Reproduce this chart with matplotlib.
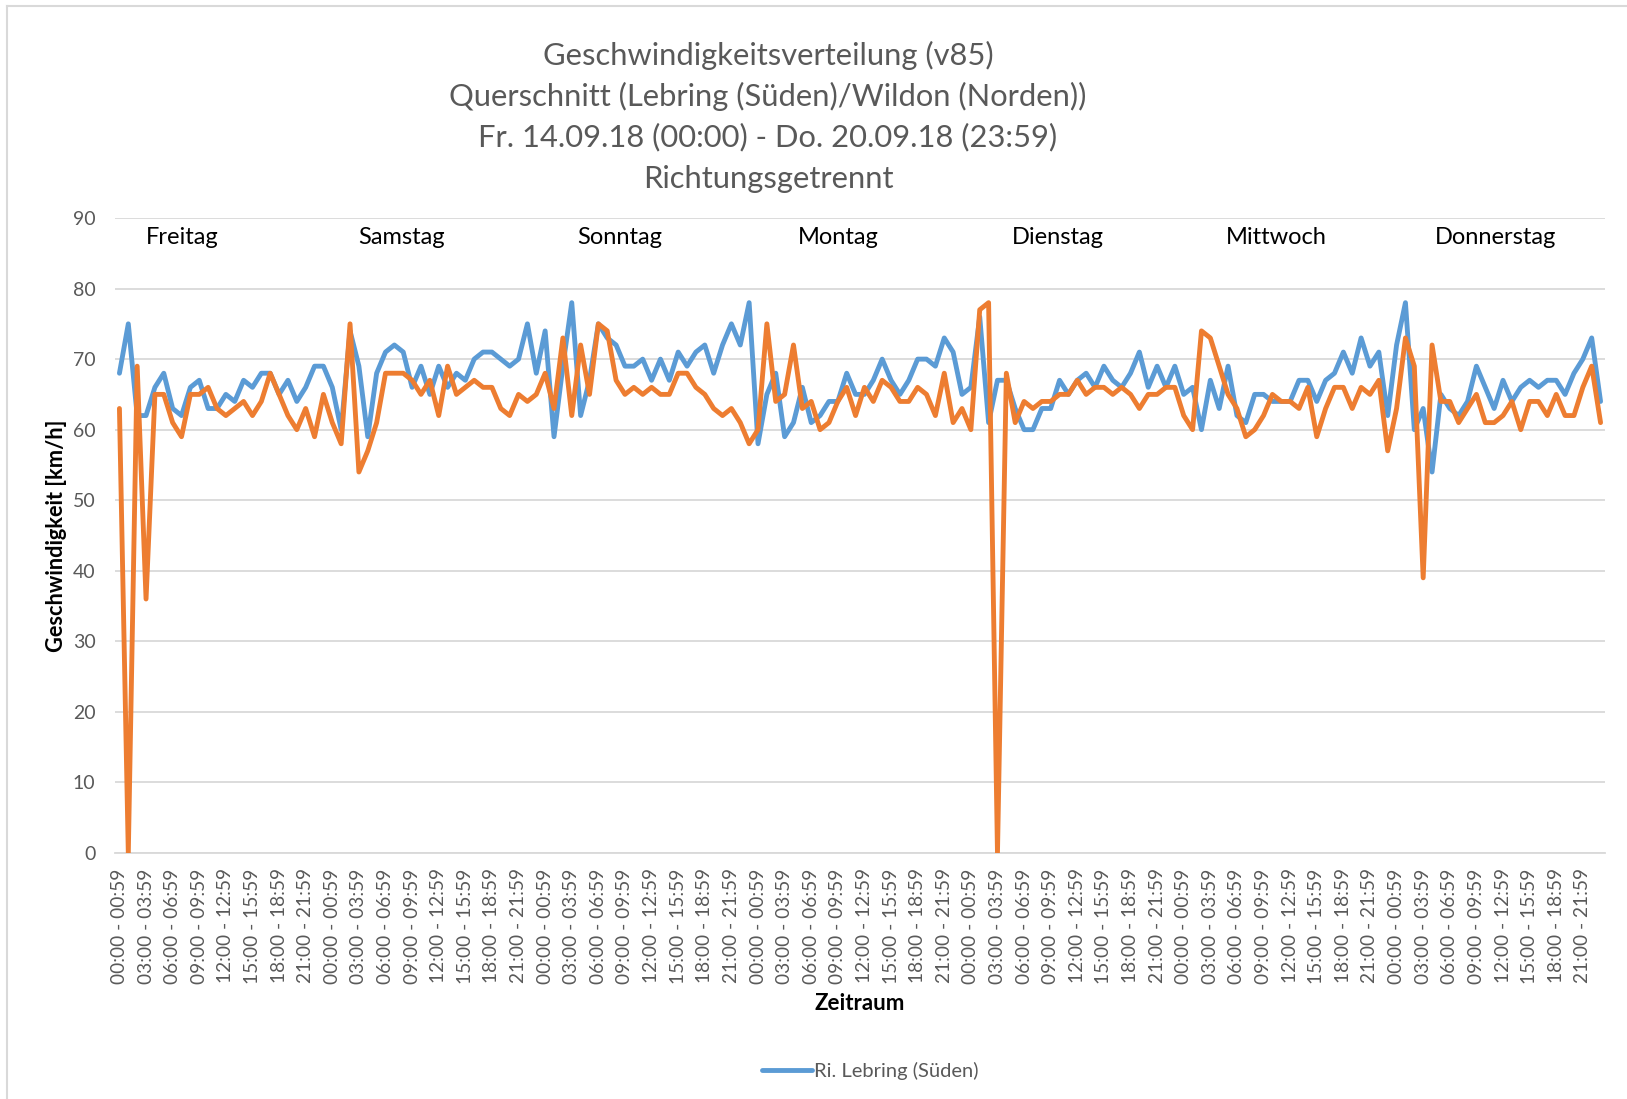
import matplotlib
matplotlib.use("Agg")
import matplotlib.pyplot as plt
from matplotlib.lines import Line2D

plt.rcParams['font.family'] = ['Lato', 'DejaVu Sans']

# ---- data ----
days = ["Freitag", "Samstag", "Sonntag", "Montag", "Dienstag", "Mittwoch", "Donnerstag"]
hour_labels = [f"{h:02d}:00 - {h:02d}:59" for h in range(24)]
categories = hour_labels * 7

lebring = [
    68, 75, 62, 62, 66, 68, 63, 62, 66, 67, 63, 63, 65, 64, 67, 66, 68, 68, 65, 67, 64, 66, 69, 69,
    66, 60, 74, 69, 59, 68, 71, 72, 71, 66, 69, 65, 69, 66, 68, 67, 70, 71, 71, 70, 69, 70, 75, 68,
    74, 59, 69, 78, 62, 67, 75, 73, 72, 69, 69, 70, 67, 70, 67, 71, 69, 71, 72, 68, 72, 75, 72, 78,
    58, 65, 68, 59, 61, 66, 61, 62, 64, 64, 68, 65, 65, 67, 70, 67, 65, 67, 70, 70, 69, 73, 71, 65,
    66, 76, 61, 67, 67, 63, 60, 60, 63, 63, 67, 65, 67, 68, 66, 69, 67, 66, 68, 71, 66, 69, 66, 69,
    65, 66, 60, 67, 63, 69, 62, 61, 65, 65, 64, 64, 64, 67, 67, 64, 67, 68, 71, 68, 73, 69, 71, 62,
    72, 78, 60, 63, 54, 65, 63, 62, 64, 69, 66, 63, 67, 64, 66, 67, 66, 67, 67, 65, 68, 70, 73, 64,
]
wildon = [
    63, 0, 69, 36, 65, 65, 61, 59, 65, 65, 66, 63, 62, 63, 64, 62, 64, 68, 65, 62, 60, 63, 59, 65,
    61, 58, 75, 54, 57, 61, 68, 68, 68, 67, 65, 67, 62, 69, 65, 66, 67, 66, 66, 63, 62, 65, 64, 65,
    68, 63, 73, 62, 72, 65, 75, 74, 67, 65, 66, 65, 66, 65, 65, 68, 68, 66, 65, 63, 62, 63, 61, 58,
    60, 75, 64, 65, 72, 63, 64, 60, 61, 64, 66, 62, 66, 64, 67, 66, 64, 64, 66, 65, 62, 68, 61, 63,
    60, 77, 78, 0, 68, 61, 64, 63, 64, 64, 65, 65, 67, 65, 66, 66, 65, 66, 65, 63, 65, 65, 66, 66,
    62, 60, 74, 73, 69, 65, 63, 59, 60, 62, 65, 64, 64, 63, 66, 59, 63, 66, 66, 63, 66, 65, 67, 57,
    63, 73, 69, 39, 72, 64, 64, 61, 63, 65, 61, 61, 62, 64, 60, 64, 64, 62, 65, 62, 62, 66, 69, 61,
]
yticks = list(range(0, 91, 10))

title_lines = [
    "Geschwindigkeitsverteilung (v85)",
    "Querschnitt (Lebring (Süden)/Wildon (Norden))",
    "Fr. 14.09.18 (00:00) - Do. 20.09.18 (23:59)",
    "Richtungsgetrennt",
]

# ---- figure ----
W, H = 1627, 1099
fig = plt.figure(figsize=(W / 100, H / 100), dpi=100)
ax = fig.add_axes([115 / W, 1 - 853 / H, (1605 - 115) / W, (853 - 218) / H])

x = list(range(len(categories)))
grey = "#595959"
ax.plot(x, lebring, color="#5B9BD5", lw=3.5, solid_joinstyle="round",
        solid_capstyle="round", label="Ri. Lebring (Süden)", zorder=3)
ax.plot(x, wildon, color="#ED7D31", lw=3.5, solid_joinstyle="round",
        solid_capstyle="round", label="Ri. Wildon (Norden)", zorder=4)

ax.set_xlim(-0.5, len(categories) - 0.5)
ax.set_ylim(0, 90)
ax.set_yticks(yticks)
ax.set_yticklabels([str(v) for v in yticks], color=grey, fontsize=14)
ax.set_xticks(x[::3])
ax.set_xticklabels(categories[::3], rotation=90, color=grey, fontsize=13.8)
ax.tick_params(axis="x", length=0, pad=11)
ax.tick_params(axis="y", length=0, pad=14)
ax.grid(axis="y", color="#d9d9d9", lw=1.3, zorder=0)
for s in ["top", "right", "left"]:
    ax.spines[s].set_visible(False)
ax.spines["bottom"].set_color("#d9d9d9")
ax.spines["bottom"].set_linewidth(1.3)

ax.set_ylabel("Geschwindigkeit [km/h]", fontsize=15.7, fontweight="bold", color="black", labelpad=4)
ax.set_xlabel("Zeitraum", fontsize=16, fontweight="bold", color="black", labelpad=7)

# day labels
for i, d in enumerate(days):
    ax.text(7.1 + i * 24.67, 87.2, d, fontsize=17, color="black", ha="center", va="center")

# title
for i, t in enumerate(title_lines):
    fig.text(768 / W, 1 - (55 + i * 41.2) / H, t, fontsize=22.2, color=grey, ha="center", va="center")

# legend (only first series visible in reference)
handles, labels = ax.get_legend_handles_labels()
fig.legend(handles[:1], labels[:1], loc="center", bbox_to_anchor=(870 / W, 1 - 1071 / H),
           frameon=False, fontsize=14.5, labelcolor=grey, handlelength=2.5, handletextpad=0.1)

# chart border
fig.add_artist(Line2D([7 / W, 7 / W], [0, 1 - 6 / H], color="#d9d9d9", lw=1.5, transform=fig.transFigure))
fig.add_artist(Line2D([7 / W, 1], [1 - 6 / H, 1 - 6 / H], color="#d9d9d9", lw=1.5, transform=fig.transFigure))

fig.savefig("out.png", dpi=100, facecolor="white")
